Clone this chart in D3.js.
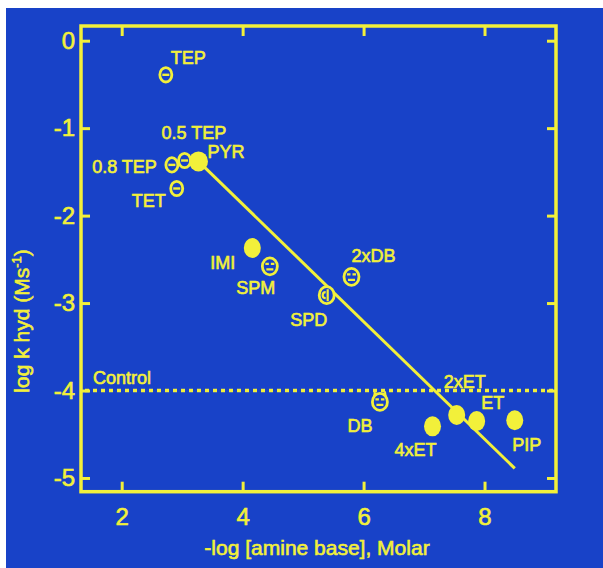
<!DOCTYPE html>
<html>
<head>
<meta charset="utf-8">
<script src="https://cdn.jsdelivr.net/npm/d3@7"></script>
<style>
html,body{margin:0;padding:0;background:#fff;}
text{font-family:"Liberation Sans",Arial,sans-serif;fill:#f2f03a;stroke:#f2f03a;stroke-width:0.6px;}
</style>
</head>
<body>
<div id="chart"></div>
<script>
(function(){

// data
const names = ["TEP","0.5 TEP","0.8 TEP","TET","PYR","IMI","SPM","SPD","2xDB","DB","4xET","2xET","ET","PIP"];
const xs = [2.73, 3.04, 2.83, 2.91, 3.27, 4.16, 4.45, 5.39, 5.80, 6.27, 7.14, 7.54, 7.87, 8.50];
const ys = [-0.39, -1.37, -1.42, -1.69, -1.38, -2.37, -2.58, -2.91, -2.70, -4.13, -4.41, -4.28, -4.35, -4.34];
const kinds = ["minus","minus","minus","minus","filled","filled","face","spd","face","cat","filled","filled","filled","filled"];
const fitX = [3.27, 8.50];
const fitY = [-1.38, -4.89];
const controlY = -4;
const xTicks = [2, 4, 6, 8];
const yTicks = [0, -1, -2, -3, -4, -5];

// label placement, pixels from the mark
const labelPos = [
  [5,-11,"start"],[-23,-22,"start"],[-15,8,"end"],[-11,19,"end"],[9,-3,"start"],
  [-17,21,"end"],[-14,28,"middle"],[-18,31,"middle"],[0,-15,"start"],[-20,30,"middle"],
  [-17,30,"middle"],[8,-27,"middle"],[16,-12,"middle"],[12,31,"middle"]
];

const width = 603, height = 568;
const yellow = "#f2f03a";
const blue = "#1842c8";

const svg = d3.select("#chart").append("svg")
.attr("width",width)
.attr("height",height);

svg.append("rect")
.attr("x",6).attr("y",8)
.attr("width",width-6).attr("height",height-8)
.attr("fill",blue);

const x = d3.scaleLinear().domain([1.327,9.182]).range([81,556]);
const y = d3.scaleLinear().domain([0.168,-5.157]).range([26,491.7]);

const axisStyle = g=>{
  g.select(".domain").remove();
  g.selectAll(".tick line").attr("stroke",yellow).attr("stroke-width",3);
  g.selectAll(".tick text").attr("fill",yellow).attr("font-size","24px");
};

svg.append("g")
.attr("transform",`translate(0,${y.range()[1]})`)
.call(d3.axisBottom(x).tickValues(xTicks).tickSize(-10).tickPadding(16).tickFormat(d3.format("d")))
.call(axisStyle);

svg.append("g")
.attr("transform",`translate(0,${y.range()[0]})`)
.call(d3.axisTop(x).tickValues(xTicks).tickSize(-10).tickFormat(""))
.call(axisStyle);

svg.append("g")
.attr("transform",`translate(${x.range()[0]},0)`)
.call(d3.axisLeft(y).tickValues(yTicks).tickSize(-9).tickPadding(6).tickFormat(d=>d===0?"0":"-"+Math.abs(d)))
.call(axisStyle);

svg.append("g")
.attr("transform",`translate(${x.range()[1]},0)`)
.call(d3.axisRight(y).tickValues(yTicks).tickSize(-9).tickFormat(""))
.call(axisStyle);

// frame
svg.append("rect")
.attr("x",x.range()[0]).attr("y",y.range()[0])
.attr("width",x.range()[1]-x.range()[0])
.attr("height",y.range()[1]-y.range()[0])
.attr("fill","none")
.attr("stroke",yellow)
.attr("stroke-width",3.5);

// control line
svg.append("line")
.attr("x1",x.range()[0]+4).attr("x2",x.range()[1]-2)
.attr("y1",y(controlY)).attr("y2",y(controlY))
.attr("stroke",yellow)
.attr("stroke-width",3.5)
.attr("stroke-dasharray","4,4");

svg.append("text")
.attr("x",93).attr("y",y(controlY)-7)
.attr("font-size","18px")
.text("Control");

// fit line
svg.append("line")
.attr("x1",x(fitX[0])).attr("y1",y(fitY[0]))
.attr("x2",x(fitX[1])).attr("y2",y(fitY[1]))
.attr("stroke",yellow)
.attr("stroke-width",3);

// points
const pts = names.map((n,i)=>({name:n,x:xs[i],y:ys[i],kind:kinds[i],lp:labelPos[i]}));

const g = svg.selectAll("g.pt")
.data(pts)
.enter()
.append("g")
.attr("class","pt")
.attr("transform",d=>`translate(${x(d.x)},${y(d.y)})`);

g.filter(d=>d.kind==="filled")
.append("ellipse")
.attr("rx",d=>d.name==="PYR"?9.5:8.5)
.attr("ry",10)
.attr("fill",yellow);

const ring = g.filter(d=>d.kind!=="filled");
ring.append("ellipse")
.attr("rx",d=>d.kind==="minus"?6:7.5)
.attr("ry",d=>d.kind==="minus"?7.2:8.5)
.attr("fill",blue)
.attr("stroke",yellow)
.attr("stroke-width",2.8);

g.filter(d=>d.kind==="minus")
.append("line")
.attr("x1",-3.5).attr("x2",3.5)
.attr("stroke",yellow).attr("stroke-width",2.4);

const faces = g.filter(d=>d.kind==="face"||d.kind==="cat");
faces.append("path")
.attr("d","M-4.5,-2.5H-1M1,-2.5H4.5M-3.5,3H3.5")
.attr("stroke",yellow).attr("stroke-width",2.2).attr("fill","none");

g.filter(d=>d.kind==="cat")
.append("path")
.attr("d","M-7,-4L-6,-11L-2,-8ZM7,-4L6,-11L2,-8Z")
.attr("fill",yellow);

g.filter(d=>d.kind==="spd")
.append("path")
.attr("d","M1,-6V6M-1,-3A3,3 0 1 0 -1,3")
.attr("stroke",yellow).attr("stroke-width",2.2).attr("fill","none");

// point labels
g.append("text")
.attr("x",d=>d.lp[0])
.attr("y",d=>d.lp[1])
.attr("text-anchor",d=>d.lp[2])
.attr("font-size","18px")
.text(d=>d.name);

// x label
svg.append("text")
.attr("x",317)
.attr("y",555)
.attr("text-anchor","middle")
.attr("font-size","21px")
.text("-log [amine base], Molar");

// y label
const yl = svg.append("text")
.attr("transform","rotate(-90)")
.attr("x",-321)
.attr("y",29)
.attr("text-anchor","middle")
.attr("font-size","21px");
yl.append("tspan").text("log k hyd (Ms");
yl.append("tspan").attr("font-size","13px").attr("dy","-8").text("-1");
yl.append("tspan").attr("dy","8").text(")");

})();
</script>
</body>
</html>
